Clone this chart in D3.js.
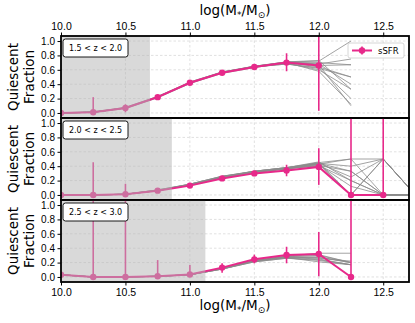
<!DOCTYPE html>
<html>
<head>
<meta charset="utf-8">
<script src="https://cdn.jsdelivr.net/npm/d3@7"></script>
<style>
  body { margin: 0; background: #fff; }
  svg { font-family: 'DejaVu Sans', sans-serif; }
</style>
</head>
<body>
<div id="chart"></div>
<script>
// redshift bins
let binLabels = ['1.5 < z < 2.0', '2.0 < z < 2.5', '2.5 < z < 3.0']
// mass completeness limits (shaded below)
let massLimits = [10.69, 10.86, 11.12]

// sSFR quiescent fraction, one array per bin
let massP1 = [10.0, 10.25, 10.5, 10.75, 11.0, 11.25, 11.5, 11.75, 12.0]
let fracP1 = [0.0, 0.01, 0.07, 0.22, 0.42, 0.56, 0.64, 0.70, 0.66]
let loP1 = [0.0, 0.0, 0.01, 0.20, 0.40, 0.54, 0.62, 0.58, 0.03]
let hiP1 = [0.0, 0.22, 0.12, 0.25, 0.44, 0.58, 0.66, 0.83, 1.3]

let massP2 = [10.0, 10.25, 10.5, 10.75, 11.0, 11.25, 11.5, 11.75, 12.0, 12.25, 12.5]
let fracP2 = [0.0, 0.0, 0.01, 0.06, 0.13, 0.23, 0.30, 0.34, 0.39, 0.0, 0.0]
let loP2 = [0.0, 0.0, 0.0, 0.05, 0.12, 0.22, 0.29, 0.26, 0.14, 0.0, 0.0]
let hiP2 = [0.0, 0.455, 0.155, 0.08, 0.14, 0.24, 0.31, 0.42, 0.65, 1.3, 1.3]

let massP3 = [10.0, 10.25, 10.5, 10.75, 11.0, 11.25, 11.5, 11.75, 12.0, 12.25]
let fracP3 = [0.03, 0.0, 0.0, 0.01, 0.035, 0.13, 0.245, 0.305, 0.32, 0.0]
let loP3 = [0.02, 0.0, 0.0, 0.0, 0.0, 0.06, 0.19, 0.19, 0.01, 0.0]
let hiP3 = [0.04, 1.3, 1.3, 0.235, 0.165, 0.19, 0.31, 0.42, 0.625, 1.3]

// resampled realisations (grey)
let grayMassP1 = [10.0, 10.25, 10.5, 10.75, 11.0, 11.25, 11.5, 11.75, 12.0, 12.25]
let grayP1 = [
  [0.0, 0.01, 0.07, 0.22, 0.42, 0.56, 0.65, 0.71, 0.72, 1.0],
  [0.0, 0.01, 0.08, 0.23, 0.43, 0.57, 0.65, 0.70, 0.68, 0.75],
  [0.0, 0.01, 0.07, 0.22, 0.42, 0.56, 0.64, 0.69, 0.66, 0.67],
  [0.0, 0.01, 0.07, 0.22, 0.41, 0.56, 0.64, 0.70, 0.70, 0.67],
  [0.0, 0.02, 0.07, 0.22, 0.42, 0.57, 0.64, 0.68, 0.62, 0.5],
  [0.0, 0.01, 0.06, 0.21, 0.41, 0.55, 0.63, 0.70, 0.64, 0.5],
  [0.0, 0.01, 0.07, 0.22, 0.42, 0.56, 0.65, 0.71, 0.68, 0.4],
  [0.0, 0.01, 0.07, 0.22, 0.42, 0.56, 0.64, 0.69, 0.60, 0.33],
  [0.0, 0.01, 0.07, 0.23, 0.42, 0.56, 0.64, 0.68, 0.63, 0.2],
  [0.0, 0.01, 0.07, 0.22, 0.43, 0.57, 0.65, 0.70, 0.67, 0.1],
  [0.0, 0.01, 0.07, 0.22, 0.42, 0.56, 0.64, 0.71, 0.73, 0.33],
  [0.0, 0.01, 0.07, 0.22, 0.42, 0.56, 0.64, 0.70, 0.58, 0.12]
]
let grayMassP2 = [10.0, 10.25, 10.5, 10.75, 11.0, 11.25, 11.5, 11.75, 12.0, 12.25, 12.5, 12.75]
let grayP2 = [
  [0.0, 0.0, 0.01, 0.06, 0.14, 0.25, 0.32, 0.37, 0.45, 0.5, 0.0, 0.0],
  [0.0, 0.0, 0.01, 0.07, 0.15, 0.26, 0.33, 0.38, 0.43, 0.0, 0.5, 0.0],
  [0.0, 0.0, 0.01, 0.06, 0.14, 0.25, 0.32, 0.36, 0.41, 0.33, 0.0, 0.0],
  [0.0, 0.0, 0.01, 0.06, 0.14, 0.24, 0.31, 0.37, 0.44, 0.25, 0.5, 0.0],
  [0.0, 0.0, 0.01, 0.07, 0.15, 0.25, 0.33, 0.38, 0.46, 0.2, 0.0, 0.0],
  [0.0, 0.0, 0.01, 0.06, 0.14, 0.25, 0.32, 0.37, 0.42, 0.12, 0.0, 0.0],
  [0.0, 0.0, 0.01, 0.06, 0.15, 0.26, 0.32, 0.37, 0.40, 0.0, 0.0, 0.0],
  [0.0, 0.0, 0.01, 0.07, 0.14, 0.25, 0.33, 0.38, 0.44, 0.4, 0.5, 0.0],
  [0.0, 0.0, 0.01, 0.06, 0.14, 0.24, 0.31, 0.36, 0.43, 0.5, 0.5, 0.0],
  [0.0, 0.0, 0.01, 0.06, 0.14, 0.25, 0.32, 0.37, 0.41, 0.2, 0.0, 0.0],
  [0.0, 0.0, 0.01, 0.06, 0.15, 0.26, 0.33, 0.38, 0.45, 0.0, 0.5, 0.0],
  [0.0, 0.0, 0.01, 0.06, 0.14, 0.25, 0.32, 0.37, 0.44, 0.33, 0.0, 0.0]
]
let grayMassP3 = [10.0, 10.25, 10.5, 10.75, 11.0, 11.25, 11.5, 11.75, 12.0, 12.25]
let grayP3 = [
  [0.03, 0.0, 0.0, 0.01, 0.03, 0.12, 0.23, 0.29, 0.33, 0.33],
  [0.03, 0.0, 0.0, 0.01, 0.03, 0.12, 0.22, 0.28, 0.30, 0.2],
  [0.03, 0.0, 0.0, 0.01, 0.03, 0.11, 0.22, 0.27, 0.27, 0.2],
  [0.03, 0.0, 0.0, 0.01, 0.03, 0.12, 0.22, 0.27, 0.25, 0.17],
  [0.03, 0.0, 0.0, 0.01, 0.03, 0.11, 0.21, 0.26, 0.23, 0.17],
  [0.03, 0.0, 0.0, 0.01, 0.03, 0.12, 0.23, 0.28, 0.28, 0.2],
  [0.03, 0.0, 0.0, 0.01, 0.03, 0.12, 0.22, 0.27, 0.21, 0.17],
  [0.03, 0.0, 0.0, 0.01, 0.03, 0.11, 0.22, 0.28, 0.26, 0.22],
  [0.03, 0.0, 0.0, 0.01, 0.03, 0.12, 0.23, 0.29, 0.31, 0.2],
  [0.03, 0.0, 0.0, 0.01, 0.03, 0.11, 0.21, 0.26, 0.24, 0.17]
]

let xTicks = [10.0, 10.5, 11.0, 11.5, 12.0, 12.5]
let yTicks = [0.0, 0.2, 0.4, 0.6, 0.8, 1.0]

let panels = [
  { mass: massP1, frac: fracP1, lo: loP1, hi: hiP1, gMass: grayMassP1, gray: grayP1 },
  { mass: massP2, frac: fracP2, lo: loP2, hi: hiP2, gMass: grayMassP2, gray: grayP2 },
  { mass: massP3, frac: fracP3, lo: loP3, hi: hiP3, gMass: grayMassP3, gray: grayP3 }
]

let width = 415
let height = 323
let left = 61
let right = 409
let panelTop = [36, 118, 200]
let panelH = 82
let pink = '#e7298a'

let svg = d3.select('#chart').append('svg')
  .attr('width', width)
  .attr('height', height)

let x = d3.scaleLinear().domain([10.0, 12.7]).range([left, right])

panels.forEach((p, i) => {
  let top = panelTop[i]
  let y = d3.scaleLinear().domain([-0.07, 1.07]).range([top + panelH, top])
  let g = svg.append('g')

  g.append('clipPath').attr('id', 'clip' + i)
    .append('rect')
    .attr('x', left).attr('y', top)
    .attr('width', right - left).attr('height', panelH)

  let body = g.append('g').attr('clip-path', 'url(#clip' + i + ')')

  // grid
  body.selectAll('line.gx').data(xTicks).enter().append('line')
    .attr('x1', d => x(d)).attr('x2', d => x(d))
    .attr('y1', top).attr('y2', top + panelH)
    .attr('stroke', '#d4d4d4').attr('stroke-width', 0.7)
    .attr('stroke-dasharray', '2.5,2')
  body.selectAll('line.gy').data(yTicks).enter().append('line')
    .attr('x1', left).attr('x2', right)
    .attr('y1', d => y(d)).attr('y2', d => y(d))
    .attr('stroke', '#d4d4d4').attr('stroke-width', 0.7)
    .attr('stroke-dasharray', '2.5,2')

  // grey realisations
  let gline = d3.line().x((d, k) => x(p.gMass[k])).y(d => y(d))
  body.selectAll('path.gray').data(p.gray).enter().append('path')
    .attr('d', gline)
    .attr('fill', 'none')
    .attr('stroke', '#8c8c8c')
    .attr('stroke-width', 0.8)

  // error bars
  body.selectAll('line.err').data(p.mass).enter().append('line')
    .attr('x1', d => x(d)).attr('x2', d => x(d))
    .attr('y1', (d, k) => y(p.lo[k]))
    .attr('y2', (d, k) => y(p.hi[k]))
    .attr('stroke', pink).attr('stroke-width', 1.6)

  let line = d3.line().x((d, k) => x(p.mass[k])).y(d => y(d))
  body.append('path')
    .attr('d', line(p.frac))
    .attr('fill', 'none')
    .attr('stroke', pink)
    .attr('stroke-width', 2)

  body.selectAll('circle.pt').data(p.frac).enter().append('circle')
    .attr('cx', (d, k) => x(p.mass[k]))
    .attr('cy', d => y(d))
    .attr('r', 3.2)
    .attr('fill', pink)

  // incompleteness shading
  body.append('rect')
    .attr('x', x(10.0)).attr('y', top)
    .attr('width', x(massLimits[i]) - x(10.0))
    .attr('height', panelH)
    .attr('fill', '#b3b3b3')
    .attr('opacity', 0.5)

  // y axis
  let yAxis = d3.axisLeft(y).tickValues(yTicks).tickFormat(d3.format('.1f'))
    .tickSize(3.5).tickPadding(2.5)
  let ya = g.append('g').attr('transform', `translate(${left},0)`).call(yAxis)
  ya.select('.domain').remove()
  ya.selectAll('text').style('font-size', '10px').attr('fill', '#000')

  // frame
  g.append('rect')
    .attr('x', left).attr('y', top)
    .attr('width', right - left).attr('height', panelH)
    .attr('fill', 'none').attr('stroke', '#000').attr('stroke-width', 1.8)

  // bin label
  let bl = g.append('g').attr('transform', `translate(63,${top + 3})`)
  bl.append('rect')
    .attr('width', 65).attr('height', 18).attr('rx', 2.5)
    .attr('fill', '#fff').attr('stroke', '#000').attr('stroke-width', 0.9)
  bl.append('text')
    .attr('x', 32.5).attr('y', 12.3)
    .attr('text-anchor', 'middle')
    .style('font-size', '8px')
    .text(binLabels[i])

  // y label
  let yl = g.append('text')
    .attr('transform', `translate(18,${top + panelH / 2}) rotate(-90)`)
    .attr('text-anchor', 'middle')
    .style('font-size', '13.5px')
  yl.append('tspan').attr('x', 0).attr('dy', 0).text('Quiescent')
  yl.append('tspan').attr('x', 0).attr('dy', 15.5).text('Fraction')

  if (i === 0) {
    let xa = g.append('g').attr('transform', `translate(0,${top})`)
      .call(d3.axisTop(x).tickValues(xTicks).tickFormat(d3.format('.1f')).tickSize(3.5).tickPadding(3))
    xa.select('.domain').remove()
    xa.selectAll('text').style('font-size', '10.5px').attr('fill', '#000')

    // legend
    let lg = g.append('g').attr('transform', 'translate(348,43)')
    lg.append('rect').attr('width', 56).attr('height', 15).attr('rx', 2)
      .attr('fill', '#fff').attr('fill-opacity', 0.85)
      .attr('stroke', '#ccc').attr('stroke-width', 0.8)
    lg.append('line').attr('x1', 4).attr('x2', 24).attr('y1', 7.5).attr('y2', 7.5)
      .attr('stroke', pink).attr('stroke-width', 2)
    lg.append('line').attr('x1', 14).attr('x2', 14).attr('y1', 3.5).attr('y2', 11.5)
      .attr('stroke', pink).attr('stroke-width', 1.6)
    lg.append('circle').attr('cx', 14).attr('cy', 7.5).attr('r', 3.2).attr('fill', pink)
    lg.append('text').attr('x', 30).attr('y', 10.7).style('font-size', '8.5px').text('sSFR')
  }
  if (i === 2) {
    let xa = g.append('g').attr('transform', `translate(0,${top + panelH})`)
      .call(d3.axisBottom(x).tickValues(xTicks).tickFormat(d3.format('.1f')).tickSize(3.5).tickPadding(3))
    xa.select('.domain').remove()
    xa.selectAll('text').style('font-size', '10.5px').attr('fill', '#000')
  }
})

// x titles
function massTitle (yPos) {
  let t = svg.append('text')
    .attr('x', (left + right) / 2).attr('y', yPos)
    .attr('text-anchor', 'middle')
    .style('font-size', '13.5px')
  t.append('tspan').text('log(M')
  t.append('tspan').attr('dy', 3).style('font-size', '9px').text('*')
  t.append('tspan').attr('dy', -3).text('/M')
  t.append('tspan').attr('dy', 3).style('font-size', '9px').text('⊙')
  t.append('tspan').attr('dy', -3).text(')')
}
massTitle(15)
massTitle(310)
</script>
</body>
</html>
